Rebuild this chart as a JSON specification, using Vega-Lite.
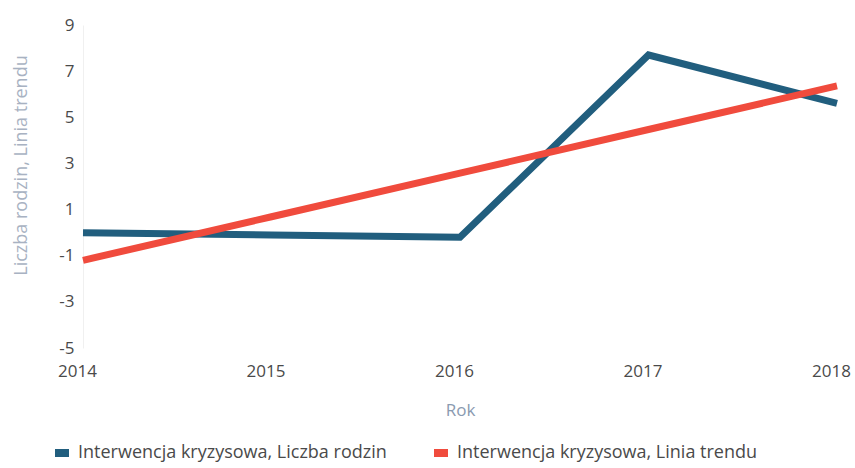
{
  "$schema": "https://vega.github.io/schema/vega-lite/v6.json",
  "width": 754,
  "height": 323,
  "autosize": "none",
  "padding": {"left": 83, "top": 25, "right": 18, "bottom": 120},
  "background": "#ffffff",
  "config": {
    "view": {"stroke": null},
    "font": "Open Sans"
  },
  "data": {
    "values": [
      {"Rok": "2014", "series": "Interwencja kryzysowa, Liczba rodzin", "value": 0.0},
      {"Rok": "2015", "series": "Interwencja kryzysowa, Liczba rodzin", "value": -0.1},
      {"Rok": "2016", "series": "Interwencja kryzysowa, Liczba rodzin", "value": -0.2},
      {"Rok": "2017", "series": "Interwencja kryzysowa, Liczba rodzin", "value": 7.7},
      {"Rok": "2018", "series": "Interwencja kryzysowa, Liczba rodzin", "value": 5.6},
      {"Rok": "2014", "series": "Interwencja kryzysowa, Linia trendu", "value": -1.2},
      {"Rok": "2015", "series": "Interwencja kryzysowa, Linia trendu", "value": 0.69},
      {"Rok": "2016", "series": "Interwencja kryzysowa, Linia trendu", "value": 2.58},
      {"Rok": "2017", "series": "Interwencja kryzysowa, Linia trendu", "value": 4.47},
      {"Rok": "2018", "series": "Interwencja kryzysowa, Linia trendu", "value": 6.36}
    ]
  },
  "mark": {"type": "line", "strokeWidth": 7, "strokeJoin": "miter", "strokeCap": "butt"},
  "encoding": {
    "x": {
      "field": "Rok",
      "type": "ordinal",
      "scale": {"type": "point", "padding": 0},
      "axis": {
        "title": "Rok",
        "labelAngle": 0,
        "ticks": false,
        "domain": false,
        "labelFontSize": 17,
        "labelColor": "#4a4a4a",
        "labelPadding": 15,
        "labelOffset": -6,
        "labelBound": false,
        "labelOverlap": false,
        "titleFontSize": 17,
        "titleFontWeight": "normal",
        "titleColor": "#8a9ab0",
        "titlePadding": 23
      }
    },
    "y": {
      "field": "value",
      "type": "quantitative",
      "scale": {"domain": [-5, 9], "nice": false, "zero": false},
      "axis": {
        "title": "Liczba rodzin, Linia trendu",
        "values": [-5, -3, -1, 1, 3, 5, 7, 9],
        "labelExpr": "replace(datum.label, '−', '-')",
        "grid": false,
        "ticks": false,
        "domain": true,
        "domainColor": "#f0f0f0",
        "labelFontSize": 17,
        "labelColor": "#4a4a4a",
        "labelPadding": 9,
        "titleFontSize": 18,
        "titleFontWeight": "normal",
        "titleColor": "#a8b2c2",
        "titleAngle": 270,
        "titleX": -62,
        "titleY": 140,
        "titleAlign": "center",
        "titleBaseline": "middle"
      }
    },
    "color": {
      "field": "series",
      "type": "nominal",
      "scale": {
        "domain": ["Interwencja kryzysowa, Liczba rodzin", "Interwencja kryzysowa, Linia trendu"],
        "range": ["#215e7e", "#f04b3d"]
      },
      "legend": {
        "title": null,
        "orient": "none",
        "direction": "horizontal",
        "legendX": -32,
        "legendY": 417,
        "symbolType": "stroke",
        "symbolSize": 196,
        "symbolStrokeWidth": 8,
        "labelFontSize": 18,
        "labelColor": "#4a4a4a",
        "labelOffset": 5,
        "labelLimit": 500,
        "columnPadding": 31,
        "padding": 0
      }
    }
  }
}
